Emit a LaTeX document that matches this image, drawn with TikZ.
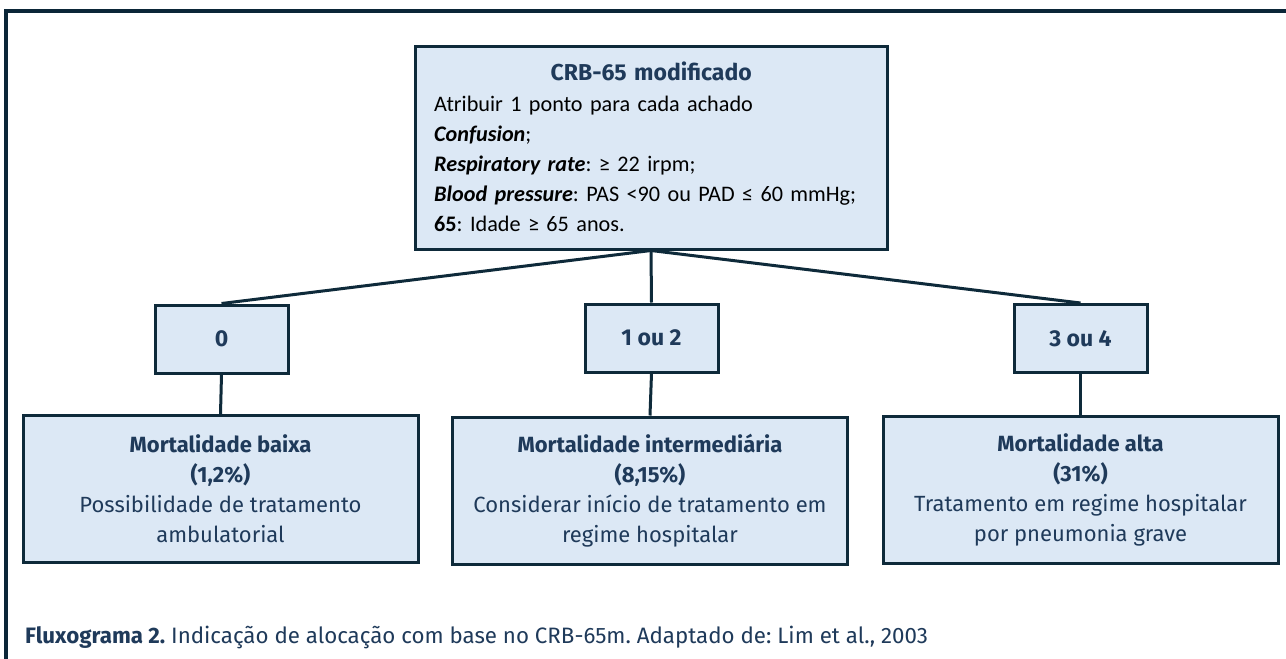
\documentclass[tikz,border=0pt]{standalone}
\usepackage{fontspec}
\setmainfont{Fira Sans}
\newfontfamily\calib{Carlito}
\definecolor{frameC}{HTML}{0B2638}
\definecolor{boxfill}{HTML}{DCE8F5}
\definecolor{boxline}{HTML}{0E2A3A}
\definecolor{txtblue}{HTML}{1F3A5A}
\tikzset{
  framestyle/.style={draw=frameC, line width=4pt},
  crbbox/.style={draw=boxline, fill=boxfill, line width=3pt, inner sep=0pt, minimum width=472pt, minimum height=203pt},
  scorebox/.style={draw=boxline, fill=boxfill, line width=3pt, inner sep=0pt, minimum width=133pt, minimum height=68pt,
     font=\fontsize{23}{26}\selectfont\bfseries, text=txtblue},
  outbox/.style={draw=boxline, fill=boxfill, line width=3pt, inner sep=0pt, minimum width=395pt, minimum height=147pt,
     align=center, text=txtblue, font=\fontsize{22}{30}\selectfont},
  link/.style={draw=boxline, line width=3pt},
}
\begin{document}
\begin{tikzpicture}[x=1pt,y=-1pt]
\frenchspacing
\useasboundingbox (0,0) rectangle (1286,659);
\clip (0,0) rectangle (1286,659);
\fill[white] (0,0) rectangle (1286,659);
\draw[framestyle] (6,11) rectangle (1300,680);

\node[crbbox] (crb) at (651,147.5) {};
\node[anchor=north west, inner sep=0pt, text width=440pt, align=left, font=\calib\fontsize{22.2}{30.2}\selectfont]
  (crbtext) at (434,62) {%
  \makebox[434pt][c]{\fontsize{23}{30.2}\rmfamily\bfseries\textcolor{txtblue}{CRB-65 modificado}}\\
  Atribuir 1 ponto para cada achado\\
  \textbf{\textit{Confusion}};\\
  \textbf{\textit{Respiratory rate}}: ≥ 22 irpm;\\
  \textbf{\textit{Blood pressure}}: PAS <90 ou PAD ≤ 60 mmHg;\\
  \textbf{65}: Idade ≥ 65 anos.};

\node[scorebox] (s0) at (221.5,339) {0};
\node[scorebox] (s1) at (651.5,338) {1 ou 2};
\node[scorebox] (s3) at (1080.5,338.5) {3 ou 4};

\node[outbox] (o0) at (220.5,489) {\textbf{Mortalidade baixa}\\\textbf{(1,2\%)}\\Possibilidade de tratamento\\ambulatorial};
\node[outbox] (o1) at (650,490.5) {\textbf{Mortalidade intermediária}\\\textbf{(8,15\%)}\\Considerar início de tratamento em\\regime hospitalar};
\node[outbox] (o3) at (1080.5,490) {\textbf{Mortalidade alta}\\\textbf{(31\%)}\\Tratamento em regime hospitalar\\por pneumonia grave};

\draw[link] (crb.south) -- (s0.north);
\draw[link] (crb.south) -- (s1.north);
\draw[link] (crb.south) -- (s3.north);
\draw[link] (s0.south) -- (o0.north);
\draw[link] (s1.south) -- (o1.north);
\draw[link] (s3.south) -- (o3.north);

\node[anchor=west, inner sep=0pt, text=txtblue, font=\fontsize{22.3}{26}\selectfont] (cap) at (25,637)
  {\textbf{Fluxograma 2.} Indicação de alocação com base no CRB-65m. Adaptado de: Lim et al., 2003};
\end{tikzpicture}
\end{document}
